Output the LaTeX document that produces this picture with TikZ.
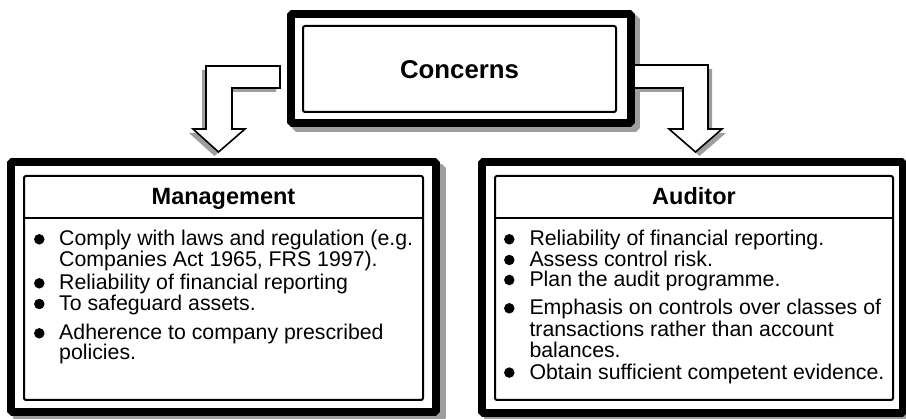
\documentclass[tikz,border=0pt]{standalone}
\usepackage{fontspec}
\setmainfont{Liberation Sans}
\definecolor{shade}{gray}{0.62}
\begin{document}
\begin{tikzpicture}[x=1pt,y=-1pt,
  frame/.style={rectangle, line width=8pt, line join=bevel, draw=black, fill=white, inner sep=0pt, outer sep=0pt},
  frameshadow/.style={rectangle, line width=8pt, line join=bevel, draw=shade, fill=shade, inner sep=0pt, outer sep=0pt},
  innerframe/.style={rectangle, line width=2pt, rounded corners=2pt, draw=black, inner sep=0pt, outer sep=0pt},
  headrule/.style={line width=2pt},
  arrowbody/.style={line width=1.6pt, draw=black, fill=white, line join=miter},
  arrowshadow/.style={fill=shade},
  bodytext/.style={font=\fontsize{21.3}{21}\selectfont, anchor=base west, inner sep=0pt},
  headtext/.style={font=\bfseries\fontsize{23.5}{24}\selectfont, anchor=base, inner sep=0pt},
  titletext/.style={font=\bfseries\fontsize{25.8}{26}\selectfont, anchor=base, inner sep=0pt},
  dot/.style={circle, fill=black, minimum size=10.5pt, inner sep=0pt}
]
\useasboundingbox (0,0) rectangle (906,419);

% ---- drop shadows of the three frames ----
\node[frameshadow, minimum width=340pt, minimum height=109pt] (concernsshadow) at (466,74) {};
\node[frameshadow, minimum width=425pt, minimum height=250pt] (mgmtshadow) at (229.5,293) {};
\node[frameshadow, minimum width=421pt, minimum height=251pt] (audshadow) at (698.5,293.5) {};

% ---- block arrows (shadow first, then body) ----
\coordinate (leftroot) at (280,66);
\coordinate (rightroot) at (633,65);
\begin{scope}[shift={(-4,4)}]
  \fill[arrowshadow] (leftroot) -- (206,66) -- (206,129) -- (193,129) -- (218.5,152)
    -- (245,129) -- (232,129) -- (232,88) -- (280,88) -- cycle;
\end{scope}
\begin{scope}[shift={(4,4)}]
  \fill[arrowshadow] (rightroot) -- (708,65) -- (708,129) -- (722,129) -- (695.5,152)
    -- (669,129) -- (683,129) -- (683,88) -- (633,88) -- cycle;
\end{scope}
\draw[arrowbody] (leftroot) -- (206,66) -- (206,129) -- (193,129) -- (218.5,152)
    -- (245,129) -- (232,129) -- (232,88) -- (280,88) -- cycle;
\draw[arrowbody] (rightroot) -- (708,65) -- (708,129) -- (722,129) -- (695.5,152)
    -- (669,129) -- (683,129) -- (683,88) -- (633,88) -- cycle;

% ---- frames ----
\node[frame, minimum width=340pt, minimum height=109pt] (concernsbox) at (461,68.5) {};
\node[frame, minimum width=425pt, minimum height=250pt] (mgmtbox) at (223.5,287) {};
\node[frame, minimum width=421pt, minimum height=251pt] (audbox) at (692.5,287.5) {};

\node[innerframe, minimum width=313pt, minimum height=86pt] (concernsinner) at (459.5,69) {};
\node[innerframe, minimum width=399pt, minimum height=224pt] (mgmtinner) at (223.5,288) {};
\node[innerframe, minimum width=398pt, minimum height=224pt] (audinner) at (694,288) {};

\coordinate (rulelevel) at (0,218);
\draw[headrule] (mgmtinner.west |- rulelevel) -- (mgmtinner.east |- rulelevel);
\draw[headrule] (audinner.west |- rulelevel) -- (audinner.east |- rulelevel);

% ---- titles ----
\node[titletext] (concernstitle) at (459.5,79) {Concerns};
\node[headtext] (mgmttitle) at (223.5,205) {Management};
\node[headtext] (audtitle) at (694,205) {Auditor};

% ---- management items ----
\node[dot] (mdot1) at (39.3,239.3) {};
\node[bodytext] (m1a) at (59,246) {Comply with laws and regulation (e.g.};
\node[bodytext] (m1b) at (59,266.7) {Companies Act 1965, FRS 1997).};
\node[dot] (mdot2) at (39.3,283.3) {};
\node[bodytext] (m2) at (59,290) {Reliability of financial reporting};
\node[dot] (mdot3) at (39.3,304) {};
\node[bodytext] (m3) at (59,310.7) {To safeguard assets.};
\node[dot] (mdot4) at (39.3,333.3) {};
\node[bodytext] (m4a) at (59,340) {Adherence to company prescribed};
\node[bodytext] (m4b) at (59,360) {policies.};

% ---- auditor items ----
\node[dot] (adot1) at (509.3,239.3) {};
\node[bodytext] (a1) at (529.3,246) {Reliability of financial reporting.};
\node[dot] (adot2) at (509.3,260) {};
\node[bodytext] (a2) at (529.3,266.7) {Assess control risk.};
\node[dot] (adot3) at (509.3,280) {};
\node[bodytext] (a3) at (529.3,286.7) {Plan the audit programme.};
\node[dot] (adot4) at (509.3,308.3) {};
\node[bodytext] (a4a) at (529.3,315) {Emphasis on controls over classes of};
\node[bodytext] (a4b) at (529.3,336.7) {transactions rather than account};
\node[bodytext] (a4c) at (529.3,357.3) {balances.};
\node[dot] (adot5) at (509.3,372.6) {};
\node[bodytext] (a5) at (529.3,379.3) {Obtain sufficient competent evidence.};
\end{tikzpicture}
\end{document}
